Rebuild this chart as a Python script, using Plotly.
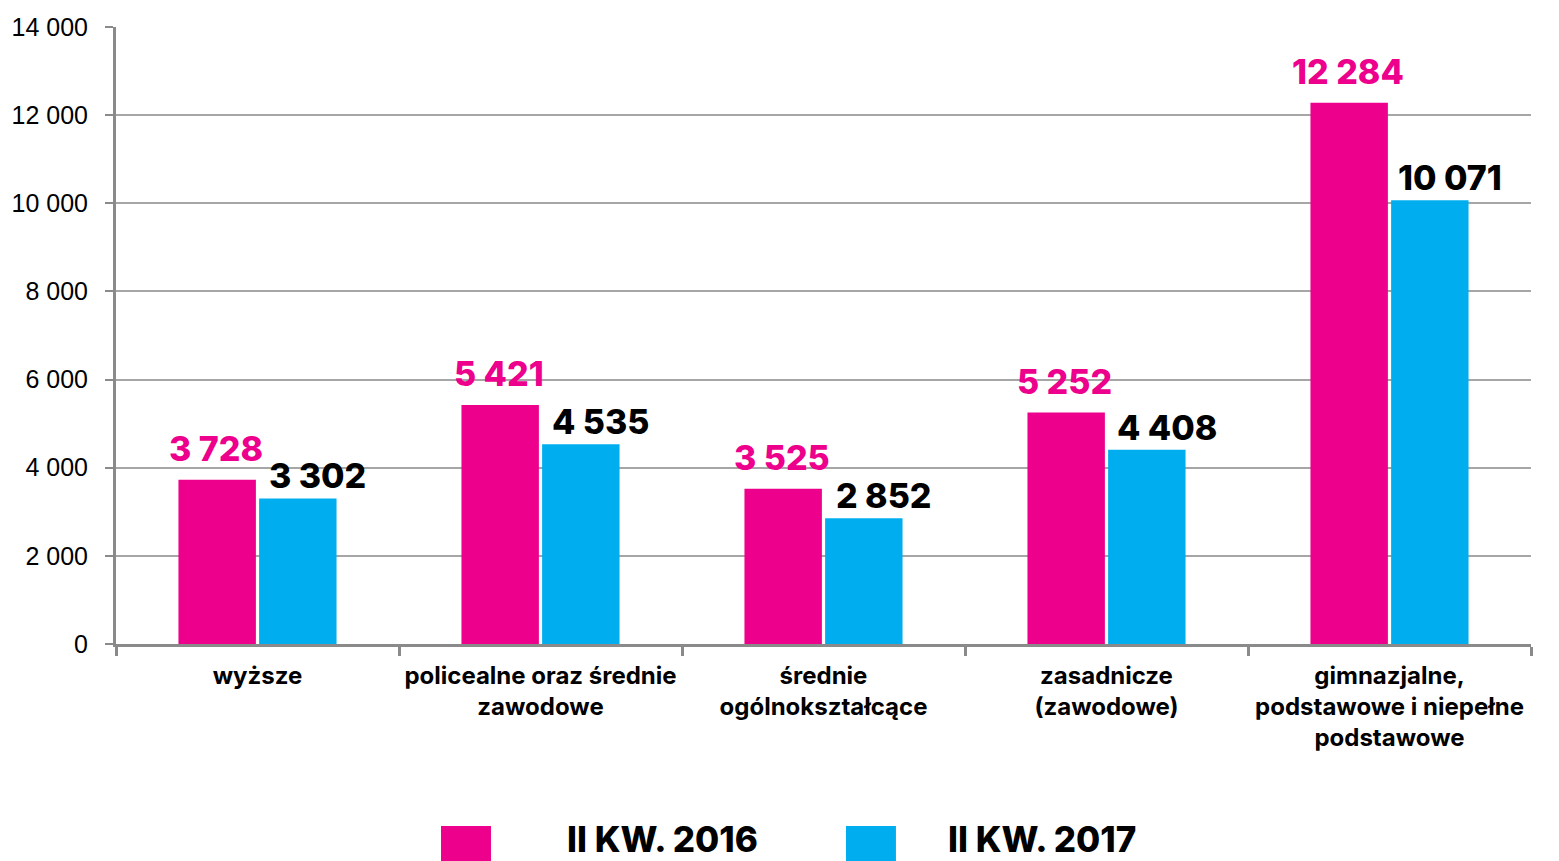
import plotly.graph_objects as go

categories = [
    "wyższe",
    "policealne oraz średnie<br>zawodowe",
    "średnie<br>ogólnokształcące",
    "zasadnicze<br>(zawodowe)",
    "gimnazjalne,<br>podstawowe i niepełne<br>podstawowe",
]
series_names = ["II KW. 2016", "II KW. 2017"]
values_2016 = [3728, 5421, 3525, 5252, 12284]
values_2017 = [3302, 4535, 2852, 4408, 10071]
tick_vals = [0, 2000, 4000, 6000, 8000, 10000, 12000, 14000]
tick_text = ["0", "2 000", "4 000", "6 000", "8 000", "10 000", "12 000", "14 000"]

PINK = "#EC008C"
BLUE = "#00AEEF"
LABEL_FONT = "Inter"


def fmt(v):
    return f"{v:,}".replace(",", " ")


fig = go.Figure()
fig.add_trace(go.Bar(x=categories, y=values_2016, name=series_names[0],
                     marker=dict(color=PINK, line=dict(width=0))))
fig.add_trace(go.Bar(x=categories, y=values_2017, name=series_names[1],
                     marker=dict(color=BLUE, line=dict(width=0))))

annotations = []
for c, v in zip(categories, values_2016):
    annotations.append(dict(x=c, y=v, xref="x", yref="y", text=fmt(v), showarrow=False,
                            xanchor="center", yanchor="bottom", xshift=-42, yshift=9,
                            font=dict(family=LABEL_FONT, size=34, color=PINK, weight=800)))
for c, v in zip(categories, values_2017):
    annotations.append(dict(x=c, y=v, xref="x", yref="y", text=fmt(v), showarrow=False,
                            xanchor="center", yanchor="bottom", xshift=60, yshift=0,
                            font=dict(family=LABEL_FONT, size=34, color="black", weight=800)))

# custom legend (large swatches)
shapes = []
legend_pos = [(0.2297, 0.2650, 0.3173), (0.5159, 0.5512, 0.5866)]
colors = [PINK, BLUE]
for (x0, x1, tx), col, name in zip(legend_pos, colors, series_names):
    shapes.append(dict(type="rect", xref="paper", yref="paper", x0=x0, x1=x1,
                       y0=-0.40, y1=-0.295, fillcolor=col, line=dict(width=0)))
    annotations.append(dict(x=tx, y=-0.316, xref="paper", yref="paper", text=name,
                            showarrow=False, xanchor="left", yanchor="middle",
                            font=dict(family=LABEL_FONT, size=35, color="black", weight=800)))

fig.update_layout(
    width=1559, height=861,
    margin=dict(l=108, r=36, t=19, b=225, autoexpand=False),
    paper_bgcolor="white", plot_bgcolor="white",
    barmode="group", bargap=0.43, bargroupgap=0.04,
    showlegend=False,
    annotations=annotations,
    shapes=shapes,
    xaxis=dict(
        automargin=False,
        tickangle=0,
        showline=True, linecolor="#8a8a8a", linewidth=3,
        ticks="outside", tickson="boundaries", ticklen=9, tickwidth=3, tickcolor="#8a8a8a",
        tickfont=dict(family=LABEL_FONT, size=24, color="black", weight=700),
        ticklabelstandoff=8,
        showgrid=False,
    ),
    yaxis=dict(
        automargin=False,
        range=[0, 14000], tickvals=tick_vals, ticktext=tick_text,
        showline=True, linecolor="#8a8a8a", linewidth=3,
        ticks="outside", ticklen=8, tickwidth=2, tickcolor="#8a8a8a",
        showgrid=True, gridcolor="#a6a6a6", gridwidth=2,
        tickfont=dict(family="Liberation Sans", size=25, color="black"),
        ticklabelstandoff=12,
        zeroline=False,
    ),
)

fig.write_html("out.html")
